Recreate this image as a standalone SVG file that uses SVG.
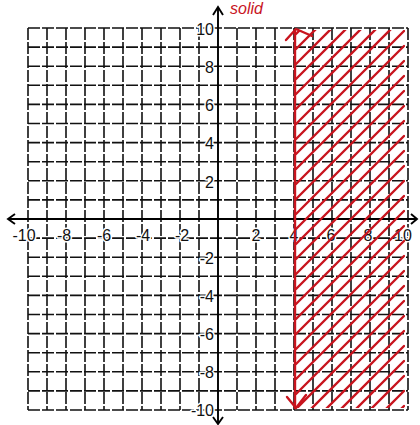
<svg xmlns="http://www.w3.org/2000/svg" width="420" height="425" viewBox="0 0 420 425">
<style>
.grid{stroke:#111;stroke-width:1.6;fill:none;stroke-dasharray:12 2}
.axis{stroke:#000;stroke-width:1.9;fill:none}
.lbl{font-family:"Liberation Sans",Arial,sans-serif;font-size:16px;fill:#111;stroke:#fff;stroke-width:3px;paint-order:stroke;stroke-linejoin:round}
.red{stroke:#c8141e;stroke-width:2.4;fill:none;stroke-linecap:round;stroke-linejoin:round}
</style>
<defs>
<clipPath id="shade"><rect x="295" y="30" width="110" height="378"/></clipPath>
</defs>
<rect width="420" height="425" fill="#fff"/>
<g id="grid">
<path class="grid" d="M28 28V410M47 28V410M66 28V410M85 28V410M104 28V410M123 28V410M142 28V410M161 28V410M180 28V410M199 28V410M237 28V410M256 28V410M275 28V410M294 28V410M313 28V410M332 28V410M351 28V410M370 28V410M389 28V410M408 28V410"/>
<path class="grid" d="M28 28H408M28 47.1H408M28 66.2H408M28 85.3H408M28 104.4H408M28 123.5H408M28 142.6H408M28 161.7H408M28 180.8H408M28 199.9H408M28 238.1H408M28 257.2H408M28 276.3H408M28 295.4H408M28 314.5H408M28 333.6H408M28 352.7H408M28 371.8H408M28 390.9H408M28 410H408"/>
</g>
<g id="axes">
<path class="axis" d="M218 8V424M8 219H417"/>
<path class="axis" d="M213 15L218 7L223 15M213 417L218 424L223 417M15 214L8 219L15 224M411 214L417 219L411 224"/>
</g>
<g id="x-labels" text-anchor="middle">
<text class="lbl" x="24" y="241">-10</text>
<text class="lbl" x="64" y="241">-8</text>
<text class="lbl" x="104" y="241">-6</text>
<text class="lbl" x="143" y="241">-4</text>
<text class="lbl" x="182" y="241">-2</text>
<text class="lbl" x="256" y="241">2</text>
<text class="lbl" x="294" y="241">4</text>
<text class="lbl" x="331" y="241">6</text>
<text class="lbl" x="368" y="241">8</text>
<text class="lbl" x="403" y="241">10</text>
</g>
<g id="y-labels" text-anchor="end">
<text class="lbl" x="214" y="35">10</text>
<text class="lbl" x="214" y="73">8</text>
<text class="lbl" x="214" y="111">6</text>
<text class="lbl" x="214" y="149">4</text>
<text class="lbl" x="214" y="188">2</text>
<text class="lbl" x="214" y="264">-2</text>
<text class="lbl" x="214" y="302">-4</text>
<text class="lbl" x="214" y="340">-6</text>
<text class="lbl" x="214" y="378">-8</text>
<text class="lbl" x="214" y="416">-10</text>
</g>
<g id="shading" clip-path="url(#shade)">
<path class="red" d="M296 34L404 -74M296 49L404 -59M296 64L404 -44M296 79L404 -29M296 94L404 -14M296 109L404 1M296 124L404 16M296 139L404 31M296 154L404 46M296 169L404 61M296 184L404 76M296 199L404 91M296 214L404 106M296 229L404 121M296 244L404 136M296 259L404 151M296 274L404 166M296 289L404 181M296 304L404 196M296 319L404 211M296 334L404 226M296 349L404 241M296 364L404 256M296 379L404 271M296 394L404 286M296 409L404 301M296 424L404 316M296 439L404 331M296 454L404 346M296 469L404 361M296 484L404 376M296 499L404 391M296 514L404 406M296 529L404 421"/>
</g>
<g id="boundary">
<path class="red" stroke-width="3" d="M295 30V408"/>
<path class="red" stroke-width="3" d="M286 40L296 29L312 36M287 397L296 408L306 395"/>
</g>
<text x="230" y="14" font-family="Liberation Sans,Arial,sans-serif" font-style="italic" font-size="16" fill="#c8141e">solid</text>
</svg>
